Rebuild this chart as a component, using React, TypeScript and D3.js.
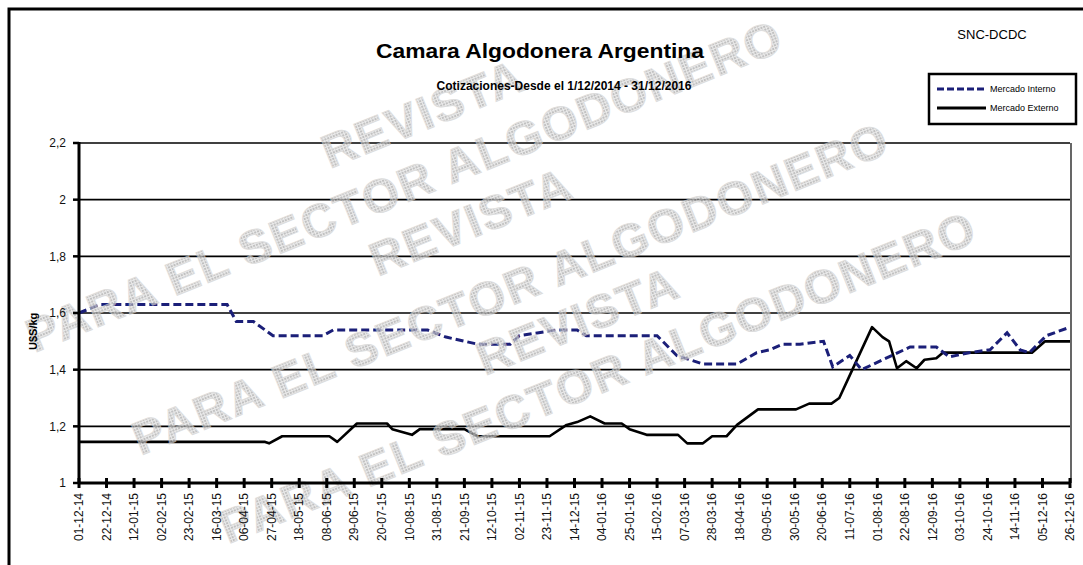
import React from "react";
import * as d3 from "d3";

const xTickLabels = [
  "01-12-14","22-12-14","12-01-15","02-02-15","23-02-15","16-03-15","06-04-15","27-04-15",
  "18-05-15","08-06-15","29-06-15","20-07-15","10-08-15","31-08-15","21-09-15","12-10-15",
  "02-11-15","23-11-15","14-12-15","04-01-16","25-01-16","15-02-16","07-03-16","28-03-16",
  "18-04-16","09-05-16","30-05-16","20-06-16","11-07-16","01-08-16","22-08-16","12-09-16",
  "03-10-16","24-10-16","14-11-16","05-12-16","26-12-16",
];
const yTicks = [1, 1.2, 1.4, 1.6, 1.8, 2, 2.2];

const internoDates = [
  "2014-12-01","2014-12-17","2015-03-24","2015-03-31","2015-04-13","2015-04-28","2015-06-05",
  "2015-06-13","2015-08-24","2015-09-07","2015-10-01","2015-10-26","2015-11-02","2015-11-30",
  "2015-12-16","2015-12-23","2016-02-15","2016-03-01","2016-03-21","2016-04-16","2016-05-01",
  "2016-05-11","2016-05-21","2016-06-03","2016-06-21","2016-06-28","2016-07-11","2016-07-20",
  "2016-08-26","2016-09-15","2016-09-25","2016-10-10","2016-10-26","2016-11-08","2016-11-18",
  "2016-11-25","2016-12-08","2016-12-26",
];
const internoValues = [
  1.60, 1.63, 1.63, 1.57, 1.57, 1.52, 1.52,
  1.54, 1.54, 1.515, 1.49, 1.49, 1.52, 1.54,
  1.54, 1.52, 1.52, 1.45, 1.42, 1.42, 1.46,
  1.47, 1.49, 1.49, 1.50, 1.41, 1.45, 1.40,
  1.48, 1.48, 1.445, 1.46, 1.47, 1.53, 1.47,
  1.46, 1.52, 1.55,
];

const externoDates = [
  "2014-12-01","2015-04-22","2015-04-25","2015-05-05","2015-06-10","2015-06-16","2015-07-01",
  "2015-07-24","2015-07-28","2015-08-12","2015-08-18","2015-09-21","2015-10-01","2015-11-25",
  "2015-12-08","2015-12-16","2015-12-26","2016-01-06","2016-01-19","2016-01-25","2016-02-07",
  "2016-03-02","2016-03-09","2016-03-21","2016-03-28","2016-04-08","2016-04-16","2016-05-02",
  "2016-05-31","2016-06-10","2016-06-27","2016-07-03","2016-07-13","2016-07-28","2016-08-05",
  "2016-08-10","2016-08-16","2016-08-23","2016-08-31","2016-09-06","2016-09-15","2016-09-20",
  "2016-11-27","2016-12-07","2016-12-26",
];
const externoValues = [
  1.145, 1.145, 1.14, 1.165, 1.165, 1.145, 1.21,
  1.21, 1.19, 1.17, 1.19, 1.19, 1.165, 1.165,
  1.205, 1.215, 1.235, 1.21, 1.21, 1.19, 1.17,
  1.17, 1.14, 1.14, 1.165, 1.165, 1.205, 1.26,
  1.26, 1.28, 1.28, 1.30, 1.40, 1.55, 1.515,
  1.50, 1.405, 1.43, 1.405, 1.435, 1.44, 1.46,
  1.46, 1.50, 1.50,
];

// watermark rows: text, offset across (d) and along (s) the slanted band
const watermarks = [
  { t: "REVISTA", d: -60, s: 367 },
  { t: "PARA EL SECTOR ALGODONERO", d: 0, s: 24 },
  { t: "REVISTA", d: 58, s: 371 },
  { t: "PARA EL SECTOR ALGODONERO", d: 135, s: 84 },
  { t: "REVISTA", d: 190, s: 433 },
  { t: "PARA EL SECTOR ALGODONERO", d: 250, s: 132 },
];

const W = 1083, H = 565;
const left = 79, right = 1070, top = 143, bottom = 483;
const parseISO = d3.timeParse("%Y-%m-%d");
const parseTick = d3.timeParse("%d-%m-%y");
const font = "'Liberation Sans', Arial, sans-serif";

export default function App() {
  const x = d3.scaleTime()
    .domain([parseISO("2014-12-01") as Date, parseISO("2016-12-26") as Date])
    .range([left, right]);
  const y = d3.scaleLinear().domain([1, 2.2]).range([bottom, top]);
  const line = d3.line<[Date, number]>().x(d => x(d[0])).y(d => y(d[1]));
  const interno = internoDates.map((d, i) => [parseISO(d) as Date, internoValues[i]] as [Date, number]);
  const externo = externoDates.map((d, i) => [parseISO(d) as Date, externoValues[i]] as [Date, number]);
  const fmt = (v: number) => String(+v.toFixed(1)).replace(".", ",");
  const navy = "#1b1f78";

  const ang = -22;
  const ca = Math.cos((ang * Math.PI) / 180), sa = Math.sin((ang * Math.PI) / 180);
  const ox = 12, oy = 362;

  return (
    <svg width={W} height={H} style={{ position: "absolute", left: 0, top: 0, background: "#fff" }} fontFamily={font}>
      <defs>
        <pattern id="dots" width="3" height="3" patternUnits="userSpaceOnUse">
          <rect width="3" height="3" fill="#e2e2e2" />
          <rect width="2" height="2" fill="#a8a8a8" />
        </pattern>
      </defs>
      <rect x={0} y={0} width={W} height={H} fill="#fff" />
      {/* outer frame */}
      <rect x={9} y={9} width={W + 20} height={H + 20} fill="none" stroke="#000" strokeWidth={3} />

      {/* gridlines */}
      {yTicks.map(v => (
        <line key={"g" + v} x1={left} x2={right} y1={y(v)} y2={y(v)} stroke="#000" strokeWidth={1.6} />
      ))}
      <line x1={right + 1} x2={right + 1} y1={top} y2={bottom} stroke="#000" strokeWidth={1.2} />

      {/* series */}
      <path d={line(externo) || ""} fill="none" stroke="#000" strokeWidth={2.6} strokeLinejoin="round" />
      <path d={line(interno) || ""} fill="none" stroke={navy} strokeWidth={3} strokeDasharray="8,4" />

      {/* watermark */}
      <g opacity={0.7} pointerEvents="none">
        {watermarks.map((w, i) => {
          const px = ox + w.s * ca - w.d * sa;
          const py = oy + w.s * sa + w.d * ca;
          return (
            <text key={i} transform={`translate(${px},${py}) rotate(${ang})`} fontSize={47} fontWeight="bold"
              letterSpacing={2} fill="url(#dots)" stroke="#d0d0d0" strokeWidth={1}>{w.t}</text>
          );
        })}
      </g>

      {/* axes */}
      <line x1={left} x2={left} y1={top - 1} y2={bottom + 1} stroke="#000" strokeWidth={3} />
      <line x1={left} x2={right + 1} y1={bottom} y2={bottom} stroke="#000" strokeWidth={3} />
      {yTicks.map(v => (
        <g key={"y" + v}>
          <line x1={left - 6} x2={left} y1={y(v)} y2={y(v)} stroke="#000" strokeWidth={2.5} />
          <text x={66} y={y(v)} dy="0.35em" textAnchor="end" fontSize={12} fill="#111">{fmt(v)}</text>
        </g>
      ))}
      {xTickLabels.map(l => {
        const px = x(parseTick(l) as Date);
        return (
          <g key={l}>
            <line x1={px} x2={px} y1={bottom - 5} y2={bottom + 5} stroke="#000" strokeWidth={3} />
            <text transform={`translate(${px},${bottom + 10}) rotate(-90)`} dy="0.35em" textAnchor="end" fontSize={12} fill="#111">{l}</text>
          </g>
        );
      })}
      <text transform={`translate(33,${(y(1.6) + y(1.4)) / 2 - 10}) rotate(-90)`} textAnchor="middle" dy="0.35em" fontSize={11} fontWeight="bold">U$S/kg</text>

      {/* titles */}
      <text x={540} y={58} textAnchor="middle" fontSize={21} fontWeight="bold" textLength={328} lengthAdjust="spacingAndGlyphs">Camara Algodonera Argentina</text>
      <text x={564} y={90} textAnchor="middle" fontSize={12} fontWeight="bold">Cotizaciones-Desde el 1/12/2014 - 31/12/2016</text>
      <text x={992} y={39} textAnchor="middle" fontSize={13}>SNC-DCDC</text>

      {/* legend */}
      <rect x={929} y={74} width={147} height={50} fill="#fff" stroke="#000" strokeWidth={2.5} />
      <line x1={937} x2={986} y1={89} y2={89} stroke={navy} strokeWidth={3} strokeDasharray="7,3" />
      <text x={990} y={89} dy="0.35em" fontSize={9}>Mercado Interno</text>
      <line x1={937} x2={986} y1={108} y2={108} stroke="#000" strokeWidth={3} />
      <text x={990} y={108} dy="0.35em" fontSize={9}>Mercado Externo</text>
    </svg>
  );
}
